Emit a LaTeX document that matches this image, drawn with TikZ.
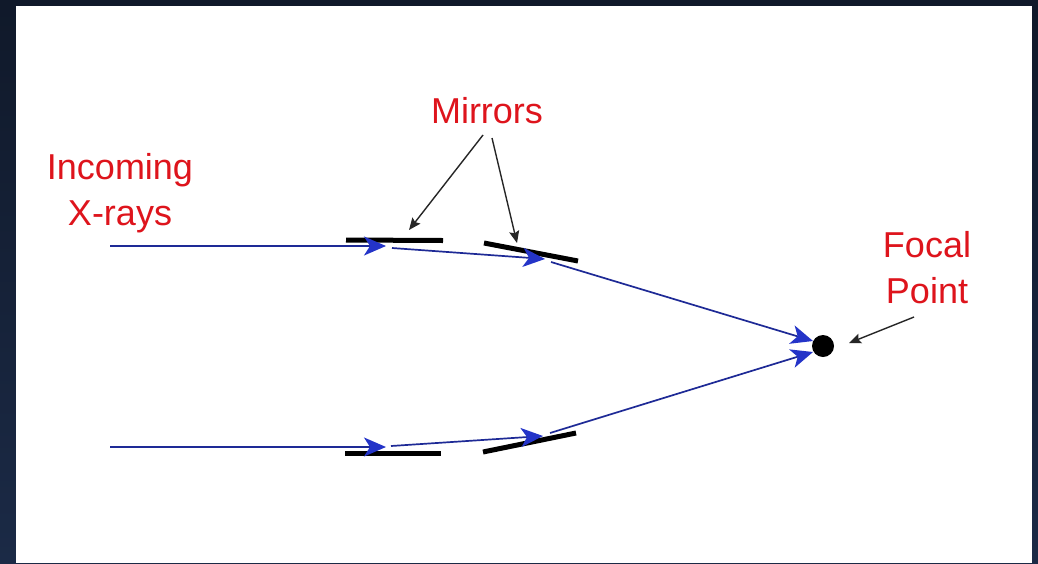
\documentclass[tikz,border=0pt]{standalone}
\usepackage{fontspec}
\setmainfont{Liberation Sans}
\usetikzlibrary{arrows.meta}
\definecolor{navytop}{RGB}{16,25,42}
\definecolor{navybot}{RGB}{27,42,70}
\definecolor{labelred}{RGB}{222,20,28}
\definecolor{rayblue}{RGB}{30,42,150}
\definecolor{tipblue}{RGB}{36,52,200}
\tikzset{
  label/.style={text=labelred, font=\fontsize{36}{46}\selectfont, inner sep=0pt},
  ray/.style={draw=rayblue, line width=1.7pt,
    -{Stealth[length=22pt,width=19pt,inset=6pt,color=tipblue]}},
  mirror/.style={draw=black, line width=5pt},
  pointer/.style={draw=black!85, line width=1.4pt,
    -{Stealth[length=12pt,width=10pt,inset=2pt]}},
}
\begin{document}
\begin{tikzpicture}[x=1pt,y=-1pt]
  % backdrop and white panel
  \shade[top color=navytop, bottom color=navybot] (0,0) rectangle (1038,563);
  \fill[white] (16,6) rectangle (1032,563);
  \useasboundingbox (0,0) rectangle (1038,563);

  % mirror end points
  \coordinate (m1a) at (346,240);
  \coordinate (m1b) at (443,240.5);
  \coordinate (m2a) at (484,243);
  \coordinate (m2b) at (578,261);
  \coordinate (m3a) at (345,453);
  \coordinate (m3b) at (441,453);
  \coordinate (m4a) at (483,452);
  \coordinate (m4b) at (576,433);

  % mirrors
  \draw[mirror] (m1a) -- (m1b);
  \draw[mirror] (m2a) -- (m2b);
  \draw[mirror] (m3a) -- (m3b);
  \draw[mirror] (m4a) -- (m4b);

  % focal point
  \node[circle, fill=black, minimum size=22pt, inner sep=0pt] (focus) at (823,346) {};

  % upper ray
  \coordinate (u0) at (110,246);
  \coordinate (u1) at (386,246);
  \coordinate (u2) at (392,248);
  \coordinate (u3) at (545,259);
  \coordinate (u4) at (551,262);
  \coordinate (u5) at (813,341);
  \draw[ray] (u0) -- (u1);
  \draw[ray] (u2) -- (u3);
  \draw[ray] (u4) -- (u5);

  % lower ray
  \coordinate (l0) at (110,447);
  \coordinate (l1) at (386,447);
  \coordinate (l2) at (391,446);
  \coordinate (l3) at (543,436);
  \coordinate (l4) at (550,433);
  \coordinate (l5) at (813,352);
  \draw[ray] (l0) -- (l1);
  \draw[ray] (l2) -- (l3);
  \draw[ray] (l4) -- (l5);

  % labels (base anchor sits on the last line of a two-line node)
  \node[label, anchor=base] (mirrors) at (487,123) {Mirrors};
  \node[label, anchor=base, align=center] (incoming) at (120,225) {Incoming\\X-rays};
  \node[label, anchor=base, align=center] (focal) at (927,303) {Focal\\Point};

  % pointers
  \coordinate (p1s) at (483,135);
  \coordinate (p1e) at (409,230);
  \coordinate (p2s) at (492,138);
  \coordinate (p2e) at (517,243);
  \coordinate (p3s) at (914,317);
  \coordinate (p3e) at (849,343);
  \draw[pointer] (p1s) -- (p1e);
  \draw[pointer] (p2s) -- (p2e);
  \draw[pointer] (p3s) -- (p3e);
\end{tikzpicture}
\end{document}
